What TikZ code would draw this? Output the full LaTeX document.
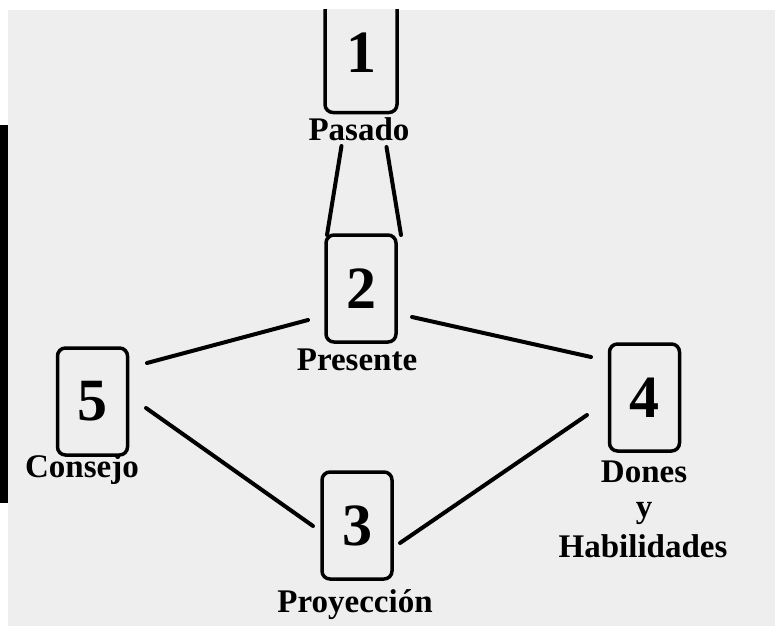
\documentclass[tikz,border=0pt]{standalone}
\usepackage{fontspec}
\setmainfont{Liberation Serif}
\definecolor{bg}{HTML}{EEEEEE}
\tikzset{
  card/.style={draw=black, line width=3.5pt, rounded corners=8pt, minimum width=70pt, minimum height=107pt, inner sep=0pt, fill=bg},
  digit/.style={font=\fontsize{60}{60}\selectfont\bfseries, inner sep=0pt},
  lbl/.style={font=\fontsize{33}{33}\selectfont\bfseries, anchor=base, inner sep=0pt},
  conn/.style={line width=4pt, line cap=round}
}
\begin{document}
\begin{tikzpicture}[x=1pt,y=-1pt]
\useasboundingbox (0,0) rectangle (775,626);
\fill[white] (0,0) rectangle (775,626);
\fill[bg] (8,10) rectangle (775,626);
\fill[black] (0,125) rectangle (8,503);
% card 1 (cut at top)
\begin{scope}
\clip (8,10) rectangle (775,626);
\node[card, minimum width=72pt, minimum height=117pt] (c1) at (361,54) {};
\end{scope}
\node[digit] (d1) at (361,53) {1};
\node[card] (c2) at (361,288.5) {};
\node[digit] at (c2) {2};
\node[card] (c5) at (92.5,401.5) {};
\node[digit] at (c5) {5};
\node[card] (c4) at (644.5,397.5) {};
\node[digit] at (c4) {4};
\node[card] (c3) at (357,525.5) {};
\node[digit] at (c3) {3};
% labels
\node[lbl] (l1) at (359,140) {Pasado};
\node[lbl] (l2) at (357,370) {Presente};
\node[lbl] (l5) at (82,477) {Consejo};
\node[lbl] (l4a) at (644,482) {Dones};
\node[lbl] (l4b) at (644,517) {y};
\node[lbl] (l4c) at (643,557) {Habilidades};
\node[lbl] (l3) at (355,612) {Proyección};
% connector end points
\coordinate (a1) at (341.5,146);
\coordinate (a2) at (327,235);
\coordinate (b1) at (386.5,147);
\coordinate (b2) at (401,235);
\coordinate (p25a) at (308,320);
\coordinate (p25b) at (147,363);
\coordinate (p24a) at (412,317);
\coordinate (p24b) at (591,357);
\coordinate (p53a) at (146,408);
\coordinate (p53b) at (313,526);
\coordinate (p34a) at (400,543);
\coordinate (p34b) at (587,415);
\draw[conn] (a1) -- (a2);
\draw[conn] (b1) -- (b2);
\draw[conn] (p25a) -- (p25b);
\draw[conn] (p24a) -- (p24b);
\draw[conn] (p53a) -- (p53b);
\draw[conn] (p34a) -- (p34b);
\end{tikzpicture}
\end{document}
